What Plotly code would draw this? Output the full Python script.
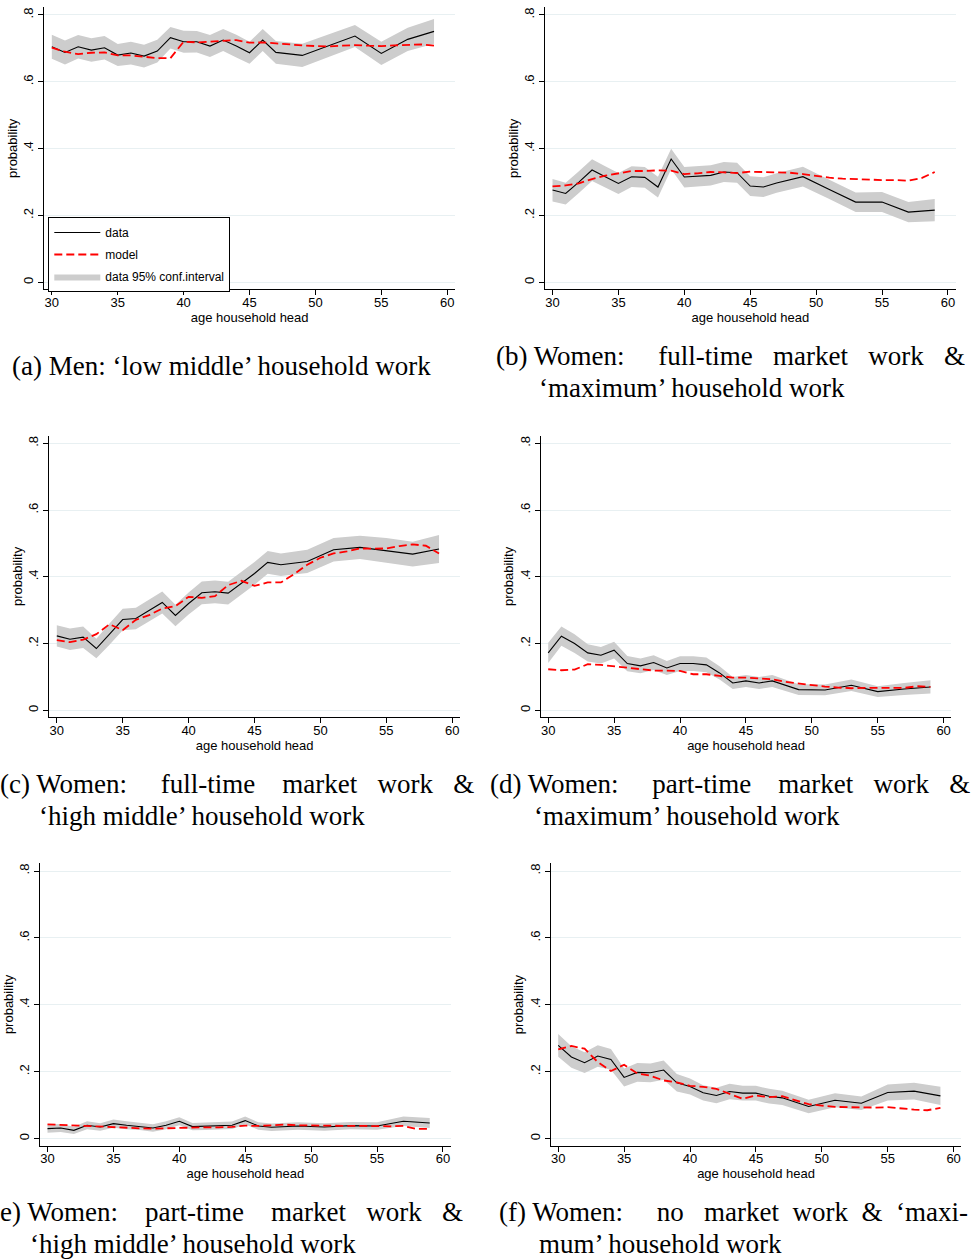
import plotly.graph_objects as go

W, H = 977, 1259

# ---------------- data ----------------
age_data = [30, 31, 32, 33, 34, 35, 36, 37, 38, 39, 40, 41, 42, 43, 44, 45, 46, 47, 49, 51, 53, 55, 57, 59]
age_model = [30, 31, 32, 33, 34, 35, 36, 37, 38, 39, 40, 41, 42, 43, 44,
             45, 46, 47, 48, 49, 50, 51, 52, 53, 54, 55, 56, 57, 58, 59]

# (a) Men: low middle household work
a_data = [0.705, 0.688, 0.705, 0.695, 0.702, 0.680, 0.686, 0.677, 0.692, 0.732, 0.720, 0.720,
          0.707, 0.725, 0.707, 0.687, 0.725, 0.688, 0.679, 0.708, 0.737, 0.685, 0.727, 0.751]
a_upper = [0.741, 0.724, 0.740, 0.730, 0.737, 0.713, 0.720, 0.711, 0.726, 0.764, 0.753, 0.752,
           0.740, 0.758, 0.741, 0.720, 0.758, 0.722, 0.714, 0.743, 0.770, 0.720, 0.762, 0.788]
a_lower = [0.669, 0.652, 0.670, 0.660, 0.667, 0.647, 0.652, 0.643, 0.658, 0.700, 0.687, 0.688,
           0.674, 0.692, 0.673, 0.654, 0.692, 0.654, 0.644, 0.673, 0.704, 0.650, 0.692, 0.714]
a_model = [0.702, 0.690, 0.683, 0.687, 0.688, 0.679, 0.679, 0.675, 0.671, 0.671, 0.720, 0.718,
           0.720, 0.723, 0.725, 0.717, 0.718, 0.715, 0.711, 0.709, 0.707, 0.706, 0.708, 0.710,
           0.708, 0.707, 0.709, 0.710, 0.712, 0.708]

# (b) Women: full-time market & maximum household work
b_data = [0.276, 0.266, 0.300, 0.336, 0.316, 0.296, 0.316, 0.314, 0.285, 0.369, 0.315, 0.318,
          0.320, 0.330, 0.328, 0.288, 0.285, 0.297, 0.316, 0.278, 0.240, 0.240, 0.210, 0.216]
b_upper = [0.309, 0.298, 0.332, 0.368, 0.347, 0.327, 0.347, 0.345, 0.316, 0.400, 0.345, 0.348,
           0.350, 0.360, 0.358, 0.317, 0.314, 0.326, 0.346, 0.307, 0.269, 0.270, 0.240, 0.249]
b_lower = [0.242, 0.233, 0.267, 0.303, 0.284, 0.264, 0.285, 0.283, 0.254, 0.338, 0.284, 0.288,
           0.290, 0.300, 0.298, 0.258, 0.255, 0.268, 0.287, 0.249, 0.210, 0.210, 0.180, 0.183]
b_model = [0.287, 0.290, 0.296, 0.309, 0.319, 0.326, 0.333, 0.333, 0.335, 0.334, 0.324, 0.326,
           0.330, 0.329, 0.327, 0.331, 0.330, 0.328, 0.328, 0.324, 0.318, 0.313, 0.310, 0.308,
           0.308, 0.306, 0.306, 0.304, 0.312, 0.330]

# (c) Women: full-time market & high middle household work
c_data = [0.223, 0.213, 0.219, 0.185, 0.228, 0.272, 0.275, 0.299, 0.323, 0.284, 0.320, 0.352,
          0.355, 0.351, 0.380, 0.410, 0.443, 0.436, 0.446, 0.481, 0.488, 0.479, 0.468, 0.483]
c_upper = [0.255, 0.245, 0.251, 0.214, 0.260, 0.304, 0.307, 0.332, 0.356, 0.316, 0.353, 0.386,
           0.389, 0.385, 0.414, 0.444, 0.477, 0.470, 0.481, 0.516, 0.523, 0.516, 0.505, 0.525]
c_lower = [0.191, 0.181, 0.187, 0.156, 0.196, 0.240, 0.243, 0.266, 0.290, 0.252, 0.287, 0.318,
           0.321, 0.317, 0.346, 0.376, 0.409, 0.402, 0.411, 0.446, 0.453, 0.442, 0.431, 0.441]
c_model = [0.210, 0.204, 0.212, 0.228, 0.258, 0.240, 0.271, 0.285, 0.305, 0.312, 0.340, 0.337,
           0.342, 0.375, 0.388, 0.373, 0.383, 0.383, 0.408, 0.436, 0.457, 0.470, 0.476, 0.485,
           0.484, 0.485, 0.492, 0.497, 0.493, 0.470]

# (d) Women: part-time market & maximum household work
d_data = [0.172, 0.222, 0.200, 0.172, 0.165, 0.180, 0.140, 0.133, 0.143, 0.127, 0.140, 0.140,
          0.136, 0.112, 0.082, 0.088, 0.082, 0.088, 0.062, 0.061, 0.075, 0.056, 0.064, 0.070]
d_upper = [0.202, 0.251, 0.228, 0.198, 0.190, 0.205, 0.163, 0.155, 0.165, 0.148, 0.162, 0.162,
           0.158, 0.132, 0.100, 0.106, 0.100, 0.106, 0.078, 0.077, 0.092, 0.072, 0.082, 0.090]
d_lower = [0.142, 0.193, 0.172, 0.146, 0.140, 0.155, 0.117, 0.111, 0.121, 0.106, 0.118, 0.118,
           0.114, 0.092, 0.064, 0.070, 0.064, 0.070, 0.046, 0.045, 0.058, 0.040, 0.046, 0.050]
d_model = [0.123, 0.120, 0.122, 0.138, 0.136, 0.132, 0.126, 0.122, 0.119, 0.119, 0.118, 0.108,
           0.108, 0.103, 0.098, 0.098, 0.096, 0.093, 0.085, 0.080, 0.074, 0.071, 0.068, 0.066,
           0.067, 0.067, 0.066, 0.067, 0.072, 0.070]

# (e) Women: part-time market & high middle household work
e_data = [0.030, 0.032, 0.025, 0.040, 0.035, 0.045, 0.040, 0.037, 0.032, 0.040, 0.052, 0.036,
          0.037, 0.038, 0.040, 0.054, 0.038, 0.034, 0.038, 0.035, 0.039, 0.038, 0.052, 0.047]
e_upper = [0.042, 0.044, 0.036, 0.052, 0.046, 0.057, 0.052, 0.048, 0.043, 0.052, 0.064, 0.047,
           0.048, 0.049, 0.051, 0.066, 0.049, 0.045, 0.049, 0.046, 0.050, 0.049, 0.066, 0.062]
e_lower = [0.018, 0.020, 0.014, 0.028, 0.024, 0.033, 0.028, 0.026, 0.021, 0.028, 0.040, 0.025,
           0.026, 0.027, 0.029, 0.042, 0.027, 0.023, 0.027, 0.024, 0.028, 0.027, 0.038, 0.032]
e_model = [0.043, 0.041, 0.039, 0.038, 0.037, 0.035, 0.033, 0.031, 0.030, 0.031, 0.034, 0.034,
           0.034, 0.034, 0.035, 0.039, 0.038, 0.040, 0.042, 0.040, 0.039, 0.038, 0.038, 0.038,
           0.038, 0.037, 0.037, 0.038, 0.029, 0.029]

# (f) Women: no market & maximum household work
f_data = [0.279, 0.244, 0.227, 0.247, 0.237, 0.183, 0.198, 0.197, 0.205, 0.167, 0.156, 0.137,
          0.129, 0.141, 0.136, 0.136, 0.127, 0.122, 0.096, 0.115, 0.106, 0.138, 0.142, 0.128]
f_upper = [0.313, 0.276, 0.258, 0.279, 0.268, 0.210, 0.226, 0.225, 0.234, 0.193, 0.180, 0.160,
           0.152, 0.164, 0.158, 0.158, 0.149, 0.143, 0.116, 0.136, 0.126, 0.162, 0.167, 0.155]
f_lower = [0.245, 0.212, 0.196, 0.215, 0.206, 0.156, 0.170, 0.169, 0.176, 0.141, 0.132, 0.114,
           0.106, 0.118, 0.114, 0.114, 0.105, 0.101, 0.076, 0.094, 0.086, 0.114, 0.117, 0.101]
f_model = [0.267, 0.277, 0.269, 0.229, 0.202, 0.221, 0.195, 0.188, 0.174, 0.168, 0.158, 0.155,
           0.149, 0.135, 0.119, 0.129, 0.124, 0.127, 0.115, 0.103, 0.099, 0.095, 0.094, 0.093,
           0.093, 0.094, 0.090, 0.087, 0.085, 0.092]

y_tickvals = [0, 0.2, 0.4, 0.6, 0.8]
y_ticktext = ["0", ".2", ".4", ".6", ".8"]
x_tickvals = [30, 35, 40, 45, 50, 55, 60]

NB = "\u00a0"
def sp(n):
    return NB * n

captions = [
    # (text, x px, y px)
    ("(a) Men: ‘low middle’ household work", 10, 366),
    ("(b) Women:" + sp(5) + "full-time" + sp(3) + "market" + sp(3) + "work" + sp(3) + "&", 494, 356),
    ("‘maximum’ household work", 537, 388),
    ("(c) Women:" + sp(5) + "full-time" + sp(4) + "market" + sp(3) + "work" + sp(3) + "&", -2, 784),
    ("‘high middle’ household work", 37, 816),
    ("(d) Women:" + sp(5) + "part-time" + sp(4) + "market" + sp(3) + "work" + sp(3) + "&", 488, 784),
    ("‘maximum’ household work", 532, 816),
    ("(e) Women:" + sp(4) + "part-time" + sp(4) + "market" + sp(3) + "work" + sp(3) + "&", -11, 1212),
    ("‘high middle’ household work", 28, 1244),
    ("(f) Women:" + sp(5) + "no" + sp(3) + "market" + sp(2) + "work" + sp(2) + "&" + sp(2) + "‘maxi-", 497, 1212),
    ("mum’ household work", 537, 1244),
]

# panel layout in pixels: (left, right, top, bottom) of plot region
panels = [
    (a_data, a_upper, a_lower, a_model, (44.3, 455.0, 7.3, 289.3)),
    (b_data, b_upper, b_lower, b_model, (545.0, 955.7, 7.3, 289.3)),
    (c_data, c_upper, c_lower, c_model, (49.3, 460.0, 435.6, 717.3)),
    (d_data, d_upper, d_lower, d_model, (540.7, 951.4, 435.6, 717.3)),
    (e_data, e_upper, e_lower, e_model, (40.0, 450.7, 863.3, 1145.7)),
    (f_data, f_upper, f_lower, f_model, (550.7, 961.4, 863.3, 1145.7)),
]

CI_COLOR = "#cdcdcd"
GRID = "#e8f0f2"
AXFONT = dict(family="Liberation Sans, Arial, sans-serif", size=13, color="black")

fig = go.Figure()
layout = {}
for i, (dat, up, lo, mod, (l, r, t, b)) in enumerate(panels):
    k = "" if i == 0 else str(i + 1)
    xa, ya = "x" + k, "y" + k
    first = (i == 0)
    fig.add_trace(go.Scatter(x=age_data, y=lo, xaxis=xa, yaxis=ya, mode="lines",
                             line=dict(width=0, color=CI_COLOR), showlegend=False,
                             hoverinfo="skip"))
    fig.add_trace(go.Scatter(x=age_data, y=up, xaxis=xa, yaxis=ya, mode="lines",
                             line=dict(width=0, color=CI_COLOR), fill="tonexty",
                             fillcolor=CI_COLOR, name="data 95% conf.interval",
                             showlegend=first, legendgroup="ci", legendrank=3))
    fig.add_trace(go.Scatter(x=age_data, y=dat, xaxis=xa, yaxis=ya, mode="lines",
                             line=dict(width=1.1, color="black"), name="data",
                             showlegend=first, legendgroup="data", legendrank=1))
    fig.add_trace(go.Scatter(x=age_model, y=mod, xaxis=xa, yaxis=ya, mode="lines",
                             line=dict(width=1.8, color="#ff0000", dash="8px,4px"), name="model",
                             showlegend=first, legendgroup="model", legendrank=2))
    layout["xaxis" + k] = dict(
        domain=[l / W, r / W], anchor=ya, range=[29.43, 60.59],
        tickmode="array", tickvals=x_tickvals, ticks="outside", ticklen=5, tickwidth=1,
        tickcolor="black", showline=True, linecolor="black", linewidth=1,
        showgrid=False, zeroline=False, tickfont=AXFONT, ticklabelstandoff=-4,
        title=dict(text="age household head", font=AXFONT, standoff=0),
    )
    layout["yaxis" + k] = dict(
        domain=[1 - b / H, 1 - t / H], anchor=xa, range=[-0.021, 0.823],
        tickmode="array", tickvals=y_tickvals, ticktext=y_ticktext, tickangle=-90,
        ticks="outside", ticklen=5, tickwidth=1, tickcolor="black",
        showline=True, linecolor="black", linewidth=1,
        showgrid=True, gridcolor=GRID, gridwidth=1, zeroline=False, tickfont=AXFONT,
        title=dict(text="probability", font=AXFONT, standoff=0),
    )

annotations = []
for text, xp, yp in captions:
    annotations.append(dict(
        text=text, x=xp / W, y=1 - yp / H, xref="paper", yref="paper",
        xanchor="left", yanchor="middle", showarrow=False,
        font=dict(family="Liberation Serif, Times New Roman, serif", size=27, color="black"),
    ))

fig.update_layout(
    width=W, height=H,
    margin=dict(l=0, r=0, t=0, b=0),
    paper_bgcolor="white", plot_bgcolor="white",
    showlegend=True,
    legend=dict(
        x=48.3 / W, y=1 - 217 / H, xanchor="left", yanchor="top",
        bordercolor="black", borderwidth=1, bgcolor="white",
        font=dict(family="Liberation Sans, Arial, sans-serif", size=12, color="black"),
        traceorder="grouped", tracegroupgap=3, itemwidth=46,
    ),
    annotations=annotations,
    **layout,
)

fig.write_html("out.html")
